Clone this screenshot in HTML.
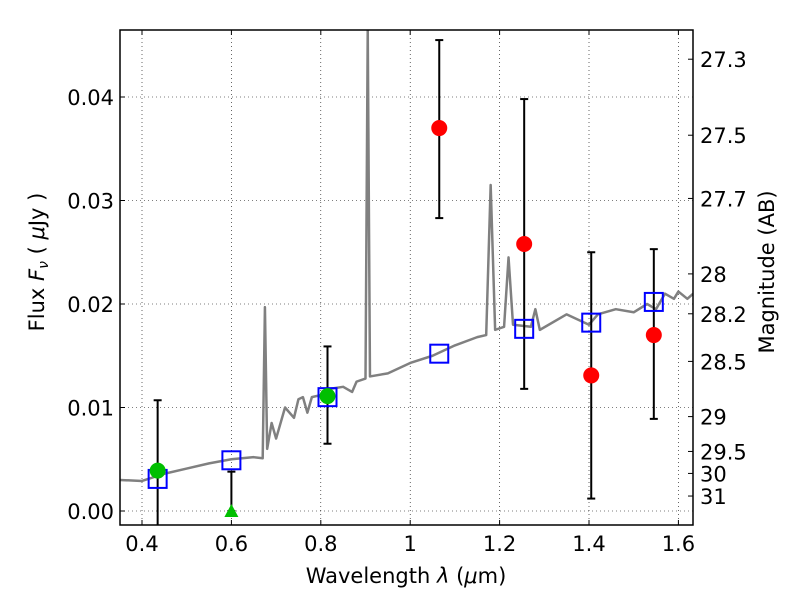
<!DOCTYPE html>
<html><head><meta charset="utf-8"><style>
body{margin:0;background:#fff;font-family:"Liberation Sans","DejaVu Sans",sans-serif}
svg text{font-family:"DejaVu Sans","Liberation Sans",sans-serif;fill:#000}
</style></head><body>
<svg id="c" width="800" height="600" xmlns="http://www.w3.org/2000/svg"></svg>
<script>
const xTicks=[0.4,0.6,0.8,1.0,1.2,1.4,1.6];
const xTickLabels=["0.4","0.6","0.8","1","1.2","1.4","1.6"];
const yTicks=[0,0.01,0.02,0.03,0.04];
const yTickLabels=["0.00","0.01","0.02","0.03","0.04"];
const magTicks=[27.3,27.5,27.7,28,28.2,28.5,29,29.5,30,31];
const specLam=[0.35,0.40,0.45,0.50,0.55,0.60,0.65,0.67,0.675,0.68,0.69,0.70,0.72,0.74,0.75,0.76,0.77,0.78,0.80,0.82,0.85,0.87,0.88,0.90,0.905,0.91,0.95,1.0,1.05,1.10,1.15,1.17,1.18,1.19,1.21,1.22,1.23,1.27,1.28,1.29,1.35,1.40,1.42,1.46,1.50,1.53,1.55,1.57,1.59,1.60,1.62,1.633];
const specFlux=[0.0030,0.0029,0.0036,0.0041,0.0046,0.0050,0.0052,0.0051,0.0197,0.0060,0.0085,0.0070,0.0100,0.0090,0.0108,0.0110,0.0095,0.0110,0.0112,0.0118,0.0120,0.0115,0.0125,0.0128,0.0465,0.0130,0.0133,0.0143,0.0150,0.0160,0.0168,0.0170,0.0315,0.0175,0.0178,0.0245,0.0180,0.0178,0.0195,0.0175,0.0190,0.0180,0.0190,0.0195,0.0192,0.0200,0.0195,0.0210,0.0205,0.0212,0.0205,0.0210];
const redLam=[1.065,1.255,1.405,1.545];
const redFlux=[0.0370,0.0258,0.0131,0.0170];
const redLo=[0.0283,0.0118,0.0012,0.0089];
const redHi=[0.0455,0.0398,0.0250,0.0253];
const greenLam=[0.435,0.815];
const greenFlux=[0.0039,0.0111];
const greenLo=[-0.0020,0.0065];
const greenHi=[0.0107,0.0159];
const triLam=[0.6];
const triFlux=[0.0];
const triHi=[0.0038];
const sqLam=[0.435,0.6,0.815,1.065,1.255,1.405,1.545];
const sqFlux=[0.0031,0.0049,0.0110,0.0152,0.0176,0.0182,0.0202];

const L=120,R=693,T=30,B=525;
const X=v=>142+(v-0.4)*447;
const Y=v=>511-v*10350;
const svg=document.getElementById('c');
const NS='http://www.w3.org/2000/svg';
function mk(t,a,p){const e=document.createElementNS(NS,t);for(const k in a)e.setAttribute(k,a[k]);(p||svg).appendChild(e);return e;}
const defs=mk('defs',{});const cp=mk('clipPath',{id:'pc'},defs);mk('rect',{x:L,y:T,width:R-L,height:B-T},cp);

xTicks.forEach((v,i)=>{
 let g=mk('line',{x1:X(v),x2:X(v),y1:T,y2:B,stroke:'#000','stroke-width':0.6,'stroke-dasharray':'1,3'});
 
 mk('line',{x1:X(v),x2:X(v),y1:B,y2:B-5,stroke:'#000'});mk('line',{x1:X(v),x2:X(v),y1:T,y2:T+5,stroke:'#000'});
 let t=mk('text',{x:X(v),y:B+26,'text-anchor':'middle','font-size':21});t.textContent=xTickLabels[i];
 
});
yTicks.forEach((v,i)=>{
 let g=mk('line',{x1:L,x2:R,y1:Y(v),y2:Y(v),stroke:'#000','stroke-width':0.6,'stroke-dasharray':'1,3'});
 
 mk('line',{x1:L,x2:L+5,y1:Y(v),y2:Y(v),stroke:'#000'});
 let t=mk('text',{x:L-6,y:Y(v)+8,'text-anchor':'end','font-size':21});t.textContent=yTickLabels[i];
 
});
magTicks.forEach(m=>{
 const f=Math.pow(10,(23.9-m)/2.5);const y=Y(f);
 mk('line',{x1:R,x2:R-5,y1:y,y2:y,stroke:'#000'});
 let t=mk('text',{x:R+7,y:y+8,'font-size':21});t.textContent=String(m);
 
});

const g=mk('g',{'clip-path':'url(#pc)'});
let sp=mk('polyline',{points:specLam.map((l,i)=>X(l)+','+Y(specFlux[i])).join(' '),fill:'none',stroke:'#808080','stroke-width':2.5,'stroke-linejoin':'round'},g);


function err(x,lo,hi){mk('line',{x1:X(x),x2:X(x),y1:Y(lo),y2:Y(hi),stroke:'#000','stroke-width':2},g);
 [lo,hi].forEach(v=>{if(Y(v)<B)mk('line',{x1:X(x)-4,x2:X(x)+4,y1:Y(v),y2:Y(v),stroke:'#000','stroke-width':2},g);});}
redLam.forEach((l,i)=>err(l,redLo[i],redHi[i]));
greenLam.forEach((l,i)=>err(l,greenLo[i],greenHi[i]));
triLam.forEach((l,i)=>err(l,triFlux[i],triHi[i]));
sqLam.forEach((l,i)=>{let s=mk('rect',{x:X(l)-9,y:Y(sqFlux[i])-9,width:18,height:18,fill:'none',stroke:'#0000ff','stroke-width':2},g);
 });
greenLam.forEach((l,i)=>{let c=mk('circle',{cx:X(l),cy:Y(greenFlux[i]),r:8,fill:'#00bf00'},g);
 });
triLam.forEach((l,i)=>{const x=X(l),y=Y(triFlux[i]);let p=mk('polygon',{points:`${x},${y-7} ${x-7},${y+6} ${x+7},${y+6}`,fill:'#00bf00'},g);
 });
redLam.forEach((l,i)=>{let c=mk('circle',{cx:X(l),cy:Y(redFlux[i]),r:8,fill:'#ff0000'},g);
 });

let fr=mk('rect',{x:L,y:T,width:R-L,height:B-T,fill:'none',stroke:'#000','stroke-width':1.5});

let xl=mk('text',{x:406,y:583,'text-anchor':'middle','font-size':21});xl.innerHTML='Wavelength  <tspan font-style="italic">λ</tspan> (<tspan font-style="italic">μ</tspan>m)';

let yl=mk('text',{x:0,y:0,'text-anchor':'middle','font-size':21,transform:'translate(44,262) rotate(-90)'});yl.innerHTML='Flux  <tspan font-style="italic">F<tspan font-size="14" dy="4">ν</tspan></tspan><tspan dy="-4">  ( </tspan><tspan font-style="italic">μ</tspan>Jy )';

let rl=mk('text',{x:0,y:0,'text-anchor':'middle','font-size':21,transform:'translate(774,272) rotate(-90)'});rl.textContent='Magnitude (AB)';

</script>
</body></html>
